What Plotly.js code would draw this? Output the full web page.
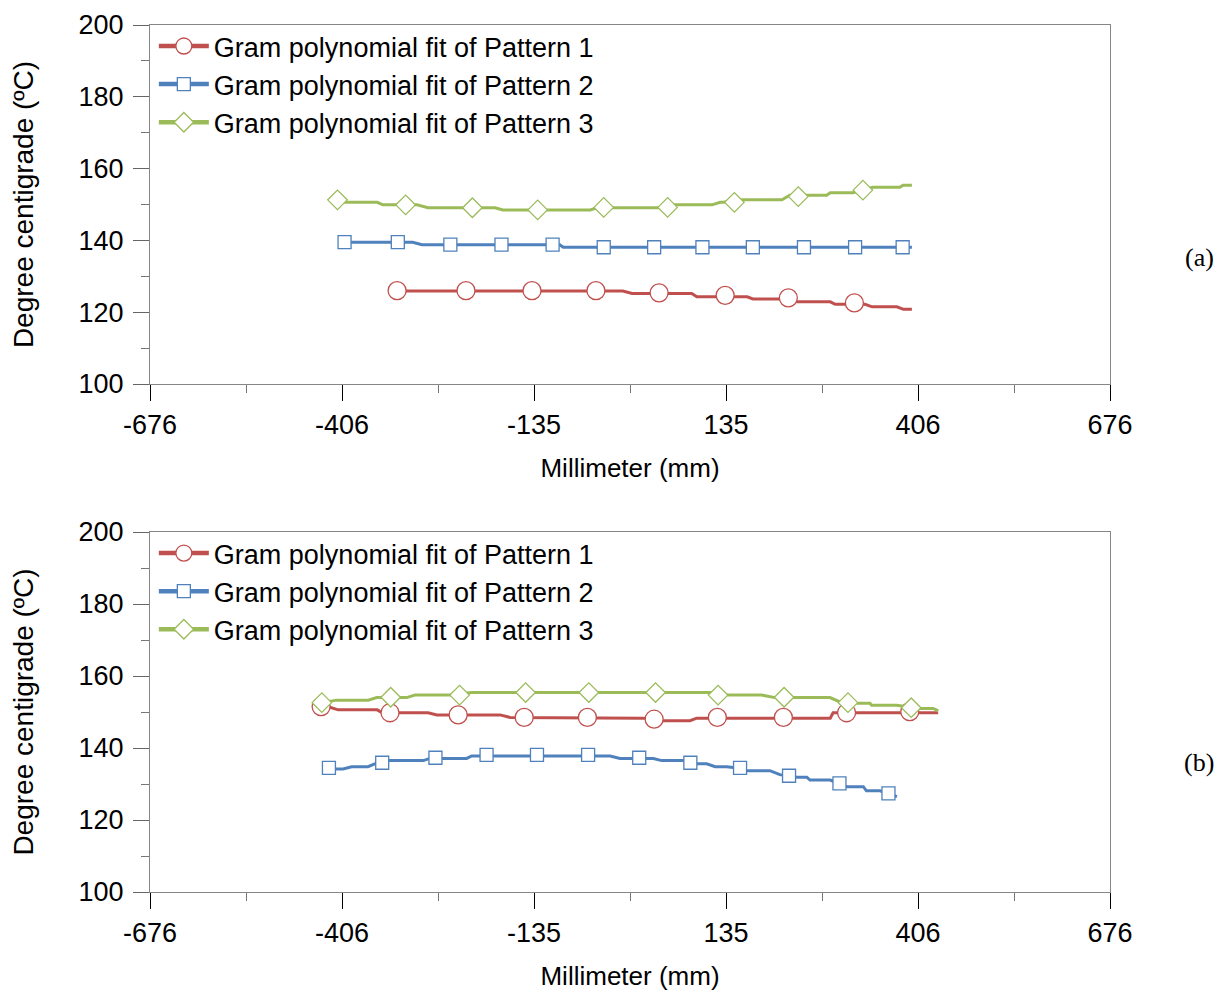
<!DOCTYPE html>
<html><head><meta charset="utf-8">
<script src="https://cdn.plot.ly/plotly-3.0.1.min.js"></script>
<style>html,body{margin:0;padding:0;background:#fff}#chart{width:1228px;height:992px}</style>
</head><body><div id="chart"></div>
<script>
// ---- data (mm, degrees C) ----
const seriesNames = ["Gram polynomial fit of Pattern 1", "Gram polynomial fit of Pattern 2", "Gram polynomial fit of Pattern 3"];
const xTickVals = [-676, -405.6, -135.2, 135.2, 405.6, 676];
const xTickText = ["-676", "-406", "-135", "135", "406", "676"];
const xMinorVals = [-540.8, -270.4, 0, 270.4, 540.8];

// (a)
const a1LineX = [-328, -10, 3, 87, 94, 165, 173, 211, 235, 282, 289, 331, 341, 376, 385, 397];
const a1LineY = [125.9, 125.9, 125.2, 125.2, 124.3, 124.3, 123.7, 123.7, 122.9, 122.9, 122.2, 122.2, 121.5, 121.5, 120.8, 120.8];
const a1MarkX = [-328, -231, -138, -48, 41, 134, 223, 316];
const a1MarkY = [126.0, 126.0, 126.0, 126.0, 125.4, 124.7, 124.0, 122.6];

const a2LineX = [-402, -306, -293, -99, -94, 397];
const a2LineY = [139.5, 139.5, 138.8, 138.8, 138.1, 138.1];
const a2MarkX = [-402, -327, -253, -181, -109, -37, 34, 102, 173, 245, 317, 384];
const a2MarkY = [139.5, 139.5, 138.8, 138.8, 138.8, 138.1, 138.1, 138.1, 138.1, 138.1, 138.1, 138.1];

const a3LineX = [-411, -399, -356, -348, -300, -284.5, -190, -179, -56, -46.5, 39, 59, 115.5, 127, 131, 159, 214, 225, 277, 282, 314, 342, 380, 384.5, 397];
const a3LineY = [150.8, 150.6, 150.6, 149.9, 149.9, 149.1, 149.1, 148.5, 148.5, 149.1, 149.1, 149.9, 149.9, 150.6, 150.6, 151.3, 151.3, 152.6, 152.6, 153.3, 153.3, 154.8, 154.8, 155.4, 155.4];
const a3MarkX = [-412, -316, -222, -130, -37, 53, 147, 237, 328];
const a3MarkY = [151.3, 149.9, 149.1, 148.5, 149.2, 149.2, 150.6, 152.2, 154.0];

// (b)
const b1LineX = [-435, -422.5, -411, -356, -349, -284.5, -272, -183, -169, -14, 18, 46.5, 84.5, 94, 282, 286, 434];
const b1LineY = [151.5, 151.3, 150.6, 150.6, 149.8, 149.8, 149.2, 149.2, 148.5, 148.3, 148.3, 147.6, 147.6, 148.3, 148.3, 149.8, 149.8];
const b1MarkX = [-435, -338, -242, -149, -60, 34, 123, 216, 305, 394];
const b1MarkY = [151.5, 149.8, 149.2, 148.5, 148.5, 148.0, 148.5, 148.5, 149.8, 150.1];

const b2LineX = [-424, -404, -392, -369, -354.5, -338, -291, -282, -230, -223, -28, -14, 33, 44.6, 75, 94, 108, 120, 136, 155, 164, 197, 211, 235, 249, 253.5, 282, 305, 328.6, 333, 352, 364, 376];
const b2LineY = [134.2, 134.2, 134.8, 134.8, 136.0, 136.5, 136.5, 137.1, 137.1, 137.8, 137.8, 137.1, 137.1, 136.5, 136.5, 135.6, 135.6, 134.8, 134.8, 134.4, 133.7, 133.7, 132.6, 131.9, 131.9, 131.1, 131.1, 129.25, 129.25, 128.1, 128.1, 127.4, 126.5];
const b2MarkX = [-424, -349, -274, -202, -131, -59, 13, 85, 155, 224, 295, 364];
const b2MarkY = [134.5, 135.9, 137.3, 138.1, 138.1, 138.1, 137.3, 135.9, 134.5, 132.3, 130.2, 127.4];

const b3LineX = [-434, -422.5, -413, -368.6, -356.7, -314.5, -302.8, -253.5, -223, 112.7, 138.4, 185.5, 204.2, 281.7, 295.7, 321.5, 338, 340.4, 375.6, 408.4, 427.1, 434.2];
const b3LineY = [152.6, 153.1, 153.3, 153.3, 154.0, 154.0, 154.7, 154.7, 155.4, 155.4, 154.7, 154.7, 154.0, 154.0, 152.8, 152.4, 152.4, 151.9, 151.9, 151.0, 151.0, 150.3];
const b3MarkX = [-434, -337, -240, -147, -58, 36, 124, 217, 307, 396];
const b3MarkY = [152.6, 154.1, 154.7, 155.4, 155.4, 155.4, 154.7, 154.1, 152.6, 151.2];

// ---- styles ----
const colors = ["#C0504D", "#4F81BD", "#9BBB59"];
const symbols = ["circle", "square", "diamond"];
const sizes = [18, 13, 15];
const FONT = "Liberation Sans, Arial, sans-serif";

function makeSeries(i, lx, ly, mx, my, xa, ya, legendId) {
  const mk = {symbol: symbols[i], size: sizes[i], color: "#ffffff", line: {color: colors[i], width: 1.3}};
  return [
    {x: lx, y: ly, xaxis: xa, yaxis: ya, mode: "lines", line: {color: colors[i], width: 3}, showlegend: false, hoverinfo: "skip"},
    {x: mx, y: my, xaxis: xa, yaxis: ya, mode: "markers", marker: mk, showlegend: false},
    {x: [null], y: [null], xaxis: xa, yaxis: ya, mode: "lines+markers", name: seriesNames[i], line: {color: colors[i], width: 4.5}, marker: mk, legend: legendId}
  ];
}

const traces = [].concat(
  makeSeries(0, a1LineX, a1LineY, a1MarkX, a1MarkY, "x", "y", "legend"),
  makeSeries(1, a2LineX, a2LineY, a2MarkX, a2MarkY, "x", "y", "legend"),
  makeSeries(2, a3LineX, a3LineY, a3MarkX, a3MarkY, "x", "y", "legend"),
  makeSeries(0, b1LineX, b1LineY, b1MarkX, b1MarkY, "x2", "y2", "legend2"),
  makeSeries(1, b2LineX, b2LineY, b2MarkX, b2MarkY, "x2", "y2", "legend2"),
  makeSeries(2, b3LineX, b3LineY, b3MarkX, b3MarkY, "x2", "y2", "legend2")
);

function xAxis(anchor) {
  return {
    anchor: anchor, domain: [0, 1], range: [-676, 676], fixedrange: true,
    tickmode: "array", tickvals: xTickVals, ticktext: xTickText,
    ticks: "outside", ticklen: 16, tickwidth: 1, tickcolor: "#000",
    ticklabelstandoff: 1,
    minor: {tickmode: "array", tickvals: xMinorVals, ticks: "outside", ticklen: 8, tickcolor: "#777", tickwidth: 1},
    showline: true, mirror: true, linecolor: "#868686", linewidth: 1,
    showgrid: false, zeroline: false,
    tickfont: {family: FONT, size: 27, color: "#000"},
    title: {text: "Millimeter (mm)", font: {family: FONT, size: 26, color: "#000"}, standoff: 19}
  };
}
function yAxis(anchor, dom) {
  return {
    anchor: anchor, domain: dom, range: [100, 200], fixedrange: true,
    tickmode: "linear", tick0: 100, dtick: 20,
    ticks: "outside", ticklen: 16, tickwidth: 1, tickcolor: "#666",
    ticklabelstandoff: 4,
    minor: {dtick: 10, tick0: 100, ticks: "outside", ticklen: 8, tickcolor: "#777", tickwidth: 1},
    showline: true, mirror: true, linecolor: "#868686", linewidth: 1,
    showgrid: false, zeroline: false,
    tickfont: {family: FONT, size: 27, color: "#000"},
    title: {text: "Degree centigrade (ºC)", font: {family: FONT, size: 28, color: "#000"}, standoff: 36}
  };
}

const legendStyle = (y) => ({
  x: 0.004, xanchor: "left", y: y, yanchor: "top",
  bgcolor: "rgba(0,0,0,0)", borderwidth: 0,
  font: {family: FONT, size: 27, color: "#000"},
  tracegroupgap: 0, itemwidth: 50
});

const layout = {
  width: 1228, height: 992,
  paper_bgcolor: "#fff", plot_bgcolor: "#fff",
  margin: {l: 150, r: 118, t: 25, b: 100},
  showlegend: true,
  xaxis: xAxis("y"),
  yaxis: yAxis("x", [0.5859, 1]),
  xaxis2: xAxis("y2"),
  yaxis2: yAxis("x2", [0, 0.4152]),
  legend: legendStyle(1.0035),
  legend2: legendStyle(0.4187),
  annotations: [
    {text: "(a)", xref: "paper", yref: "paper", x: 1.093, y: 0.7324, showarrow: false, xanchor: "center", yanchor: "middle", font: {family: "Liberation Serif, DejaVu Serif, serif", size: 26, color: "#000"}},
    {text: "(b)", xref: "paper", yref: "paper", x: 1.093, y: 0.1488, showarrow: false, xanchor: "center", yanchor: "middle", font: {family: "Liberation Serif, DejaVu Serif, serif", size: 26, color: "#000"}}
  ]
};

Plotly.newPlot("chart", traces, layout, {staticPlot: true, displayModeBar: false});
</script></body></html>
